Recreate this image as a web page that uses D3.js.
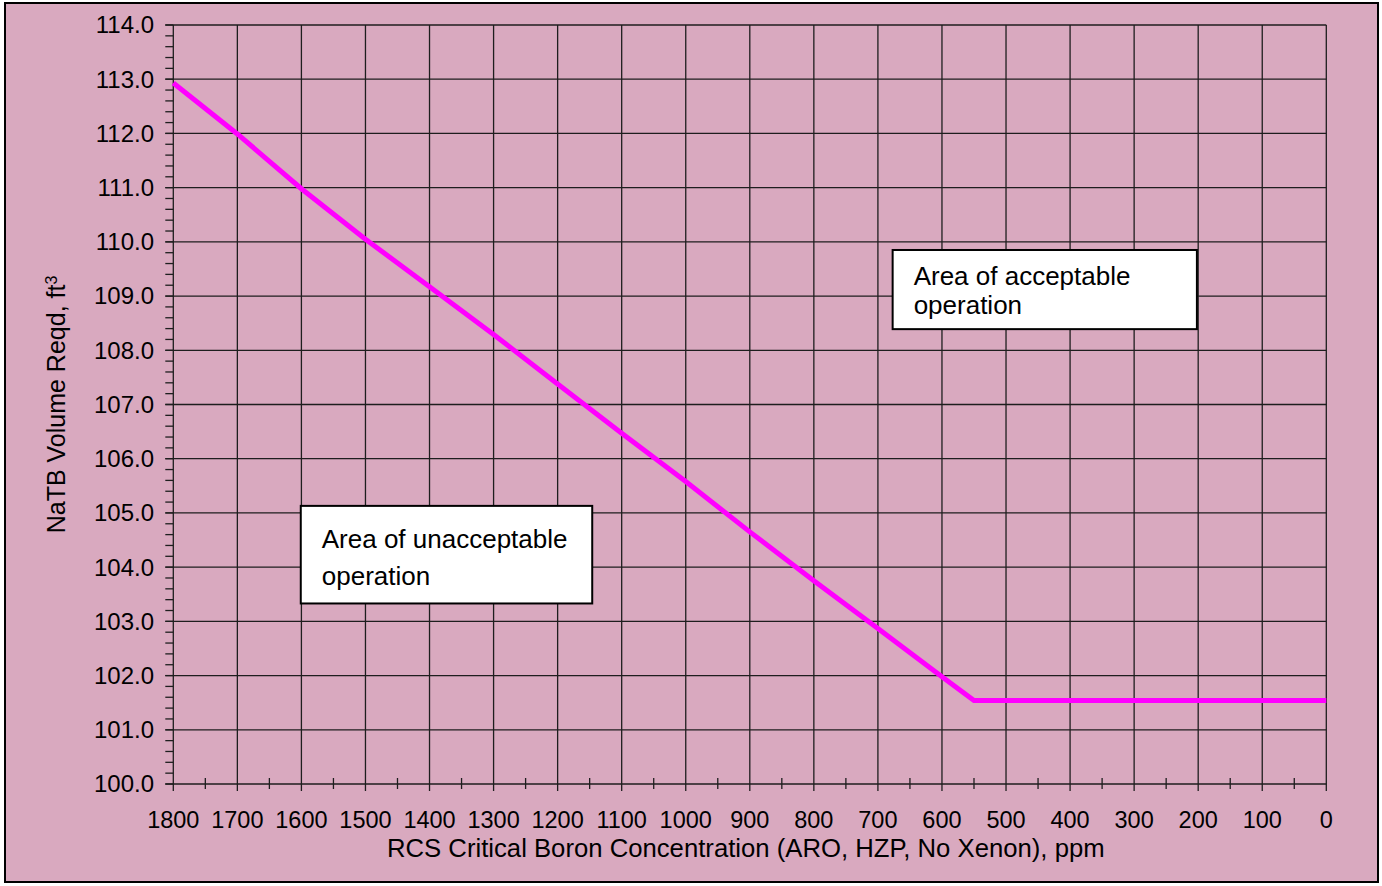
<!DOCTYPE html>
<html>
<head>
<meta charset="utf-8">
<script src="https://cdn.jsdelivr.net/npm/d3@7"></script>
<style>
  body { margin: 0; background: #fff; }
  text { font-family: "Liberation Sans", Arial, sans-serif; fill: #000; }
</style>
</head>
<body>
<div id="chart"></div>
<script>
// boron concentration (ppm) and NaTB volume required (ft3)
var boron  = [1800, 1700, 1600, 1500, 1400, 1300, 1200, 1100, 1000, 900, 800, 700, 600, 550, 0];
var volume = [112.93, 111.99, 110.98, 110.05, 109.17, 108.29, 107.38, 106.47, 105.58, 104.65, 103.75, 102.87, 101.98, 101.54, 101.54];

var xTicks = d3.range(1800, -1, -100);
var yTicks = d3.range(100, 114.01, 1);
var xMinor = d3.range(1750, 0, -100);
var yMinor = d3.range(100, 114.01, 0.2);

var notes = [
	{ lines: ['Area of unacceptable', 'operation'], x0: 1601, x1: 1146, y0: 105.13, y1: 103.33, first: 42, gap: 37 },
	{ lines: ['Area of acceptable', 'operation'], x0: 677, x1: 202, y0: 109.85, y1: 108.39, first: 35, gap: 29 }
];

var W = 1382, H = 886;
var svg = d3.select('#chart').append('svg').attr('width', W).attr('height', H);

svg.append('rect')
	.attr('x', 5).attr('y', 3)
	.attr('width', 1373).attr('height', 879)
	.attr('fill', '#d9a9bf')
	.attr('stroke', '#000')
	.attr('stroke-width', 2);

var xScale = d3.scaleLinear().domain([1800, 0]).range([173.3, 1326.3]);
var yScale = d3.scaleLinear().domain([100, 114]).range([784, 25]);

var grid = svg.append('g').attr('stroke', '#1e1e1e').attr('stroke-width', 1.3);

// vertical grid lines, running a little below the axis
grid.selectAll('.vg').data(xTicks).enter().append('line')
	.attr('x1', function(d) { return xScale(d); })
	.attr('x2', function(d) { return xScale(d); })
	.attr('y1', yScale(114))
	.attr('y2', yScale(100) + 7);

grid.selectAll('.hg').data(yTicks).enter().append('line')
	.attr('x1', xScale(1800) - 8)
	.attr('x2', xScale(0))
	.attr('y1', function(d) { return yScale(d); })
	.attr('y2', function(d) { return yScale(d); });

// minor ticks
grid.selectAll('.xm').data(xMinor).enter().append('line')
	.attr('x1', function(d) { return xScale(d); })
	.attr('x2', function(d) { return xScale(d); })
	.attr('y1', yScale(100) - 6)
	.attr('y2', yScale(100) + 5);

grid.selectAll('.ym').data(yMinor).enter().append('line')
	.attr('x1', xScale(1800) - 8)
	.attr('x2', xScale(1800))
	.attr('y1', function(d) { return yScale(d); })
	.attr('y2', function(d) { return yScale(d); });

// tick labels
svg.append('g').selectAll('text').data(yTicks).enter().append('text')
	.attr('x', 154)
	.attr('y', function(d) { return yScale(d); })
	.attr('dy', '0.35em')
	.attr('text-anchor', 'end')
	.style('font-size', '24px')
	.text(function(d) { return d.toFixed(1); });

svg.append('g').selectAll('text').data(xTicks).enter().append('text')
	.attr('x', function(d) { return xScale(d); })
	.attr('y', 828)
	.attr('text-anchor', 'middle')
	.style('font-size', '23.5px')
	.text(function(d) { return d; });

// axis titles
svg.append('text')
	.attr('x', (xScale(1800) + xScale(0)) / 2 - 4)
	.attr('y', 857)
	.attr('text-anchor', 'middle')
	.style('font-size', '25.7px')
	.text('RCS Critical Boron Concentration (ARO, HZP, No Xenon), ppm');

var yt = svg.append('text')
	.attr('transform', 'translate(65,' + yScale(107) + ') rotate(-90)')
	.attr('text-anchor', 'middle')
	.style('font-size', '25px');
yt.append('tspan').text('NaTB Volume Reqd, ft');
yt.append('tspan').attr('dy', '-0.5em').style('font-size', '16px').text('3');

// the curve
var line = d3.line()
	.x(function(d, i) { return xScale(boron[i]); })
	.y(function(d) { return yScale(d); });

svg.append('path')
	.attr('d', line(volume))
	.attr('fill', 'none')
	.attr('stroke', '#ff00ff')
	.attr('stroke-width', 5);

// annotation boxes
notes.forEach(function(n) {
	var g = svg.append('g');
	var x = xScale(n.x0), y = yScale(n.y0);
	g.append('rect')
		.attr('x', x).attr('y', y)
		.attr('width', xScale(n.x1) - x)
		.attr('height', yScale(n.y1) - y)
		.attr('fill', '#fff')
		.attr('stroke', '#000')
		.attr('stroke-width', 2);
	n.lines.forEach(function(t, i) {
		g.append('text')
			.attr('x', x + 21)
			.attr('y', y + n.first + i * n.gap)
			.style('font-size', '26px')
			.text(t);
	});
});
</script>
</body>
</html>
